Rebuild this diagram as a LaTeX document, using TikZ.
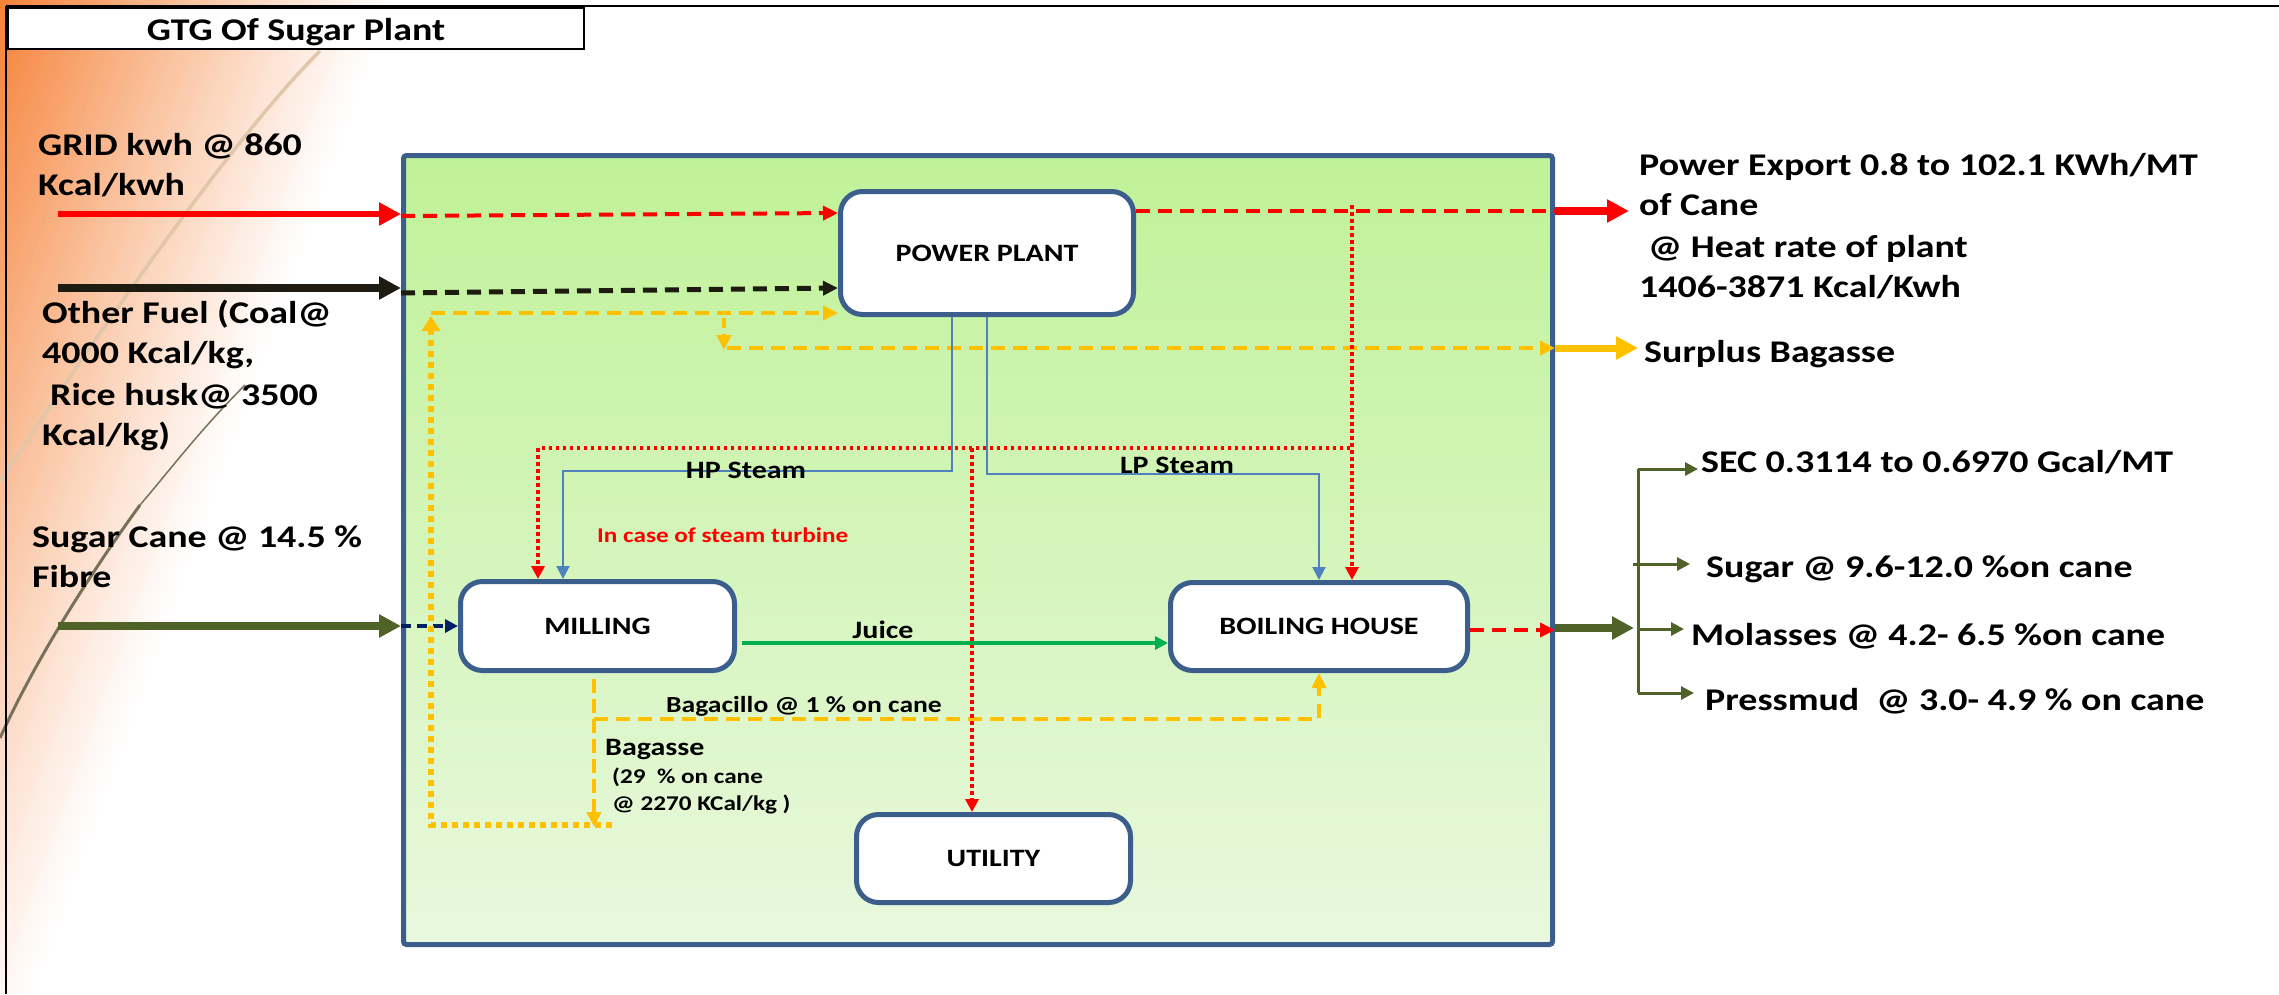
\documentclass[tikz,border=0pt]{standalone}
\usepackage{fontspec}
\setmainfont{Carlito}[FakeStretch=1.2]
\usetikzlibrary{arrows.meta,calc}
\definecolor{bord}{RGB}{59,94,140}
\definecolor{gtop}{RGB}{192,242,152}
\definecolor{gbot}{RGB}{233,248,222}
\definecolor{ora}{RGB}{255,192,0}
\definecolor{oli}{RGB}{79,98,40}
\definecolor{steam}{RGB}{79,129,189}
\definecolor{navy}{RGB}{0,32,96}
\definecolor{juicegreen}{RGB}{0,176,80}
\definecolor{bgor}{RGB}{245,128,54}
\definecolor{dkline}{RGB}{30,28,16}
\definecolor{curvelight}{RGB}{226,198,170}
\definecolor{curvedark}{RGB}{118,113,88}
\newcommand\fBig{\fontsize{31.6}{40}\selectfont\bfseries}
\newcommand\fBox{\fontsize{25}{30}\selectfont\bfseries}
\newcommand\fMid{\fontsize{23}{28}\selectfont\bfseries}
\newcommand\fSm{\fontsize{21}{26}\selectfont\bfseries}
\begin{document}
\begin{tikzpicture}[x=1pt,y=-1pt,
  unit/.style={draw=bord, line width=5pt, fill=white, rounded corners=22pt, inner sep=0pt, font=\fBox},
  lbl/.style={anchor=base west, inner sep=0pt, font=\fBig},
  inlbl/.style={inner sep=0pt, font=\fBox},
  dashline/.style={dash pattern=on 14pt off 8pt},
  reddot/.style={dash pattern=on 3.5pt off 3.5pt},
  tipL/.style={-{Triangle[length=22pt,width=22pt]}},
  tipM/.style={-{Triangle[length=15pt,width=14pt]}},
  tipS/.style={-{Triangle[length=13pt,width=13pt]}},
  tipO/.style={-{Triangle[length=15pt,width=18pt]}}
]
\useasboundingbox (0,0) rectangle (2279,994);
% background
\fill[white] (0,0) rectangle (2279,994);
\begin{scope}
\clip (0,0) rectangle (2279,994);
\foreach \i in {80,79,...,0} {
  \pgfmathsetmacro\cc{\i*5}
  \pgfmathtruncatemacro\ss{100*((1-\i/80)^1.1)}
  \fill[bgor!\ss!white] (\cc,0) -- ({\cc-358},994) -- (-400,994) -- (-400,0) -- cycle;
}
\draw[curvelight, line width=3.5pt] (320,51) .. controls (220,150) and (60,390) .. (0,482);
\draw[curvedark, line width=1.5pt] (245,385) .. controls (200,430) and (170,470) .. (140,505);
\draw[curvedark, line width=3pt] (140,505) .. controls (100,560) and (40,650) .. (0,738);
\end{scope}
% frame and title
\draw[black, line width=2.5pt] (6,6) -- (2279,6);
\draw[black, line width=1.5pt] (6,6) -- (6,994);
\node[draw=black, line width=2.5pt, fill=white, minimum width=576pt, minimum height=41pt, inner sep=0pt] (titlebox) at (296,28.5) {};
\node[anchor=base, inner sep=0pt, font=\fBig] (ttl) at (296,40) {GTG Of Sugar Plant};
% plant box
\node[draw=bord, line width=5pt, top color=gtop, bottom color=gbot, rounded corners=3pt, minimum width=1149pt, minimum height=789pt, inner sep=0pt] (plant) at (978,550) {};
% units
\node[unit, minimum width=293pt, minimum height=123pt] (pp) at (987,253) {POWER PLANT};
\node[unit, minimum width=274pt, minimum height=89pt] (mill) at (597.5,626) {MILLING};
\node[unit, minimum width=297pt, minimum height=88pt] (bh) at (1319,626.5) {BOILING HOUSE};
\node[unit, minimum width=274pt, minimum height=88pt] (ut) at (993.5,858.5) {UTILITY};
% coordinates
\coordinate (gridsrc) at (58,214);
\coordinate (fuelsrc) at (58,288);
\coordinate (canesrc) at (58,626);
\coordinate (expdst) at (1629,211);
\coordinate (surpdst) at (1638,348);
\coordinate (prodst) at (1634,628);
\coordinate (loopc) at (431,313);
\coordinate (bagtop) at (594,679);
\coordinate (bagtip) at (594,827);
\coordinate (bagend) at (612,825);
\coordinate (surpsplit) at (724,318);
\coordinate (surpturn) at (724,350);
\coordinate (rdtop) at (1352,205);
\coordinate (rdcorner) at (1350,448);
\coordinate (rdbranch) at (972,448);
\coordinate (treetop) at (1638,469);
\coordinate (treebot) at (1638,693);
% side labels
\node[lbl] (grid1) at (38,155) {GRID kwh @ 860};
\node[lbl] (grid2) at (38,195) {Kcal/kwh};
\node[lbl] (fuel1) at (42,323) {Other Fuel (Coal@};
\node[lbl] (fuel2) at (42,363) {4000 Kcal/kg,};
\node[lbl] (fuel3) at (50,405) {Rice husk@ 3500};
\node[lbl] (fuel4) at (42,445) {Kcal/kg)};
\node[lbl] (cane1) at (32,547) {Sugar Cane @ 14.5 \%};
\node[lbl] (cane2) at (32,587) {Fibre};
\node[lbl] (exp1) at (1639,175) {Power Export 0.8 to 102.1 KWh/MT};
\node[lbl] (exp2) at (1639,215) {of Cane};
\node[lbl] (exp3) at (1648,257) {@ Heat rate of plant};
\node[lbl] (exp4) at (1639,297) {1406-3871 Kcal/Kwh};
\node[lbl] (surp) at (1644,362) {Surplus Bagasse};
\node[lbl] (sec) at (1701,472) {SEC 0.3114 to 0.6970 Gcal/MT};
\node[lbl] (sugar) at (1706,577) {Sugar @ 9.6-12.0 \%on cane};
\node[lbl] (mol) at (1691,645) {Molasses @ 4.2- 6.5 \%on cane};
\node[lbl] (press) at (1705,710) {Pressmud\ \ @ 3.0- 4.9 \% on cane};
% inputs
\draw[red, line width=6pt, tipL] (gridsrc) -- (plant.west |- gridsrc);
\draw[red, line width=4pt, dashline, tipM] (plant.west |- 0,216) -- (pp.west |- 0,213);
\draw[dkline, line width=8pt, tipL] (fuelsrc) -- (plant.west |- fuelsrc);
\draw[dkline, line width=5pt, dashline, tipM] (plant.west |- 0,293) -- (pp.west |- 0,288);
\draw[oli, line width=8pt, tipL] (canesrc) -- (plant.west |- canesrc);
\draw[navy, line width=3.5pt, dash pattern=on 10pt off 6pt, tipS] (plant.west |- 0,626) -- (mill.west |- 0,626);
% power export
\draw[red, line width=4pt, dashline] (pp.east |- 0,211) -- (plant.east |- 0,211);
\draw[red, line width=8pt, tipL] (plant.east |- 0,211) -- (expdst);
% bagasse loops
\draw[ora, line width=6pt, dash pattern=on 6pt off 5pt, tipO] (bagend) -- (loopc |- bagend) -- ($(loopc)+(0,3)$);
\draw[ora, line width=4pt, dashline, tipM] (loopc) -- (pp.west |- loopc);
\draw[ora, line width=4pt, dash pattern=on 10pt off 6pt, tipM] (surpsplit) -- (surpturn);
\draw[ora, line width=4pt, dashline, tipM] (727,348) -- (plant.east |- 0,348);
\draw[ora, line width=7pt, tipL] (plant.east |- 0,348) -- (surpdst);
\draw[ora, line width=4pt, dash pattern=on 14pt off 6pt, tipM] (bagtop) -- (bagtip);
\draw[ora, line width=4pt, dashline, tipM] (bagtop |- 0,719) -| (bh.south);
% red dotted
\draw[red, line width=3.5pt, reddot, tipS] (rdtop) -- (rdtop |- bh.north);
\draw[red, line width=3.5pt, reddot, tipS] (rdcorner) -- (538,448) -- (538,0 |- mill.north);
\draw[red, line width=3.5pt, reddot, tipS] (rdbranch) -- (rdbranch |- ut.north);
% steam
\draw[steam, line width=2pt, tipS] (pp.south -| 952,0) -- (952,471) -- (563,471) -- (563,0 |- mill.north);
\draw[steam, line width=2pt, tipS] (pp.south) -- (987,474) -| (bh.north);
% juice
\draw[juicegreen, line width=3.5pt, tipS] ($(mill.east |- 0,643)+(5,0)$) -- (bh.west |- 0,643);
% products
\draw[red, line width=4pt, dashline, tipM] (bh.east |- 0,630) -- (plant.east |- 0,630);
\draw[oli, line width=8pt, tipL] (plant.east |- 0,628) -- (prodst);
\draw[oli, line width=3pt] (treetop) -- (treebot);
\draw[oli, line width=3pt, tipS] (treetop) -- ($(sec.west |- treetop)+(-3,0)$);
\draw[oli, line width=3pt, tipS] (1633,564) -- ($(sugar.west |- 0,564)+(-16,0)$);
\draw[oli, line width=3pt, tipS] (1638,629) -- ($(mol.west |- 0,629)+(-7,0)$);
\draw[oli, line width=3pt, tipS] (treebot) -- ($(press.west |- treebot)+(-11,0)$);
% inner labels
\node[inlbl, anchor=base] (hp) at (746,478) {HP Steam};
\node[inlbl, anchor=base] (lp) at (1177,473) {LP Steam};
\node[inlbl, anchor=base west, font=\fSm, text=red] (turb) at (597,542) {In case of steam turbine};
\node[inlbl, anchor=base] (juicelbl) at (883,638) {Juice};
\node[inlbl, anchor=base, font=\fMid] (bagc) at (804,712) {Bagacillo @ 1 \% on cane};
\node[inlbl, anchor=base west] (bag1) at (605,755) {Bagasse};
\node[inlbl, anchor=base west, font=\fSm] (bag2) at (612,783) {(29\ \ \% on cane};
\node[inlbl, anchor=base west, font=\fSm] (bag3) at (612,810) {@ 2270 KCal/kg )};
\end{tikzpicture}
\end{document}
